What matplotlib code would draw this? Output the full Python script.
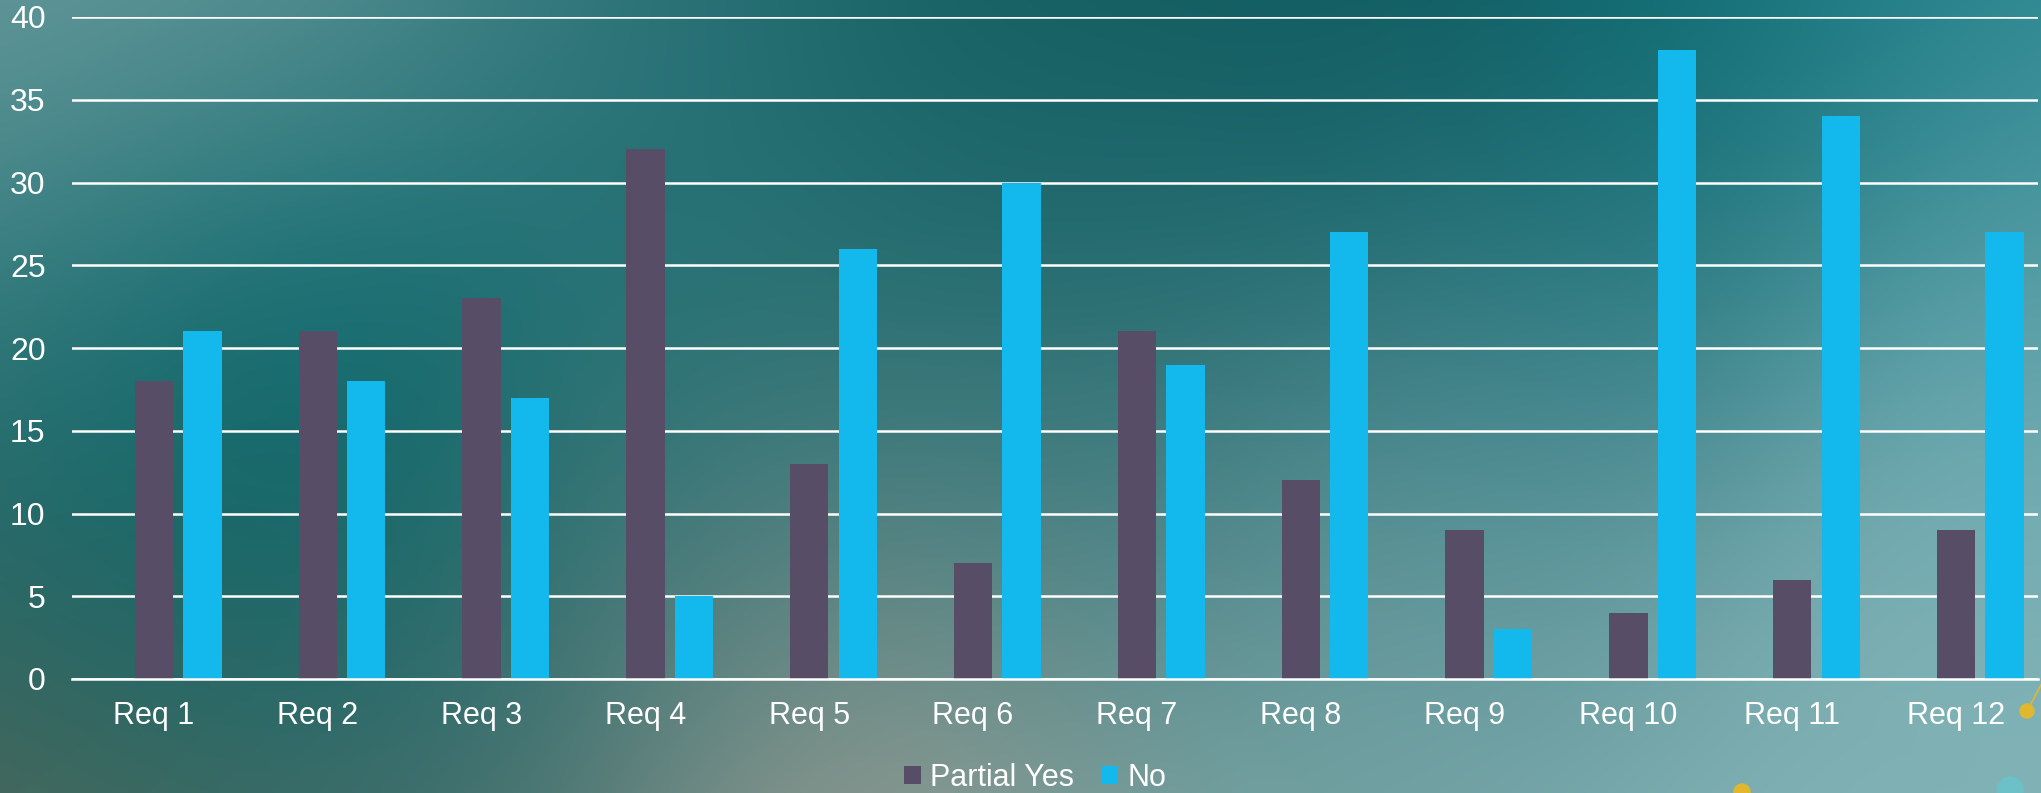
import numpy as np
import matplotlib
matplotlib.use("Agg")
from matplotlib import pyplot as plt
from matplotlib.patches import Circle

categories = ["Req 1", "Req 2", "Req 3", "Req 4", "Req 5", "Req 6",
              "Req 7", "Req 8", "Req 9", "Req 10", "Req 11", "Req 12"]
partial_yes = [18, 21, 23, 32, 13, 7, 21, 12, 9, 4, 6, 9]
no = [21, 18, 17, 5, 26, 30, 19, 27, 3, 38, 34, 27]

plt.rcParams['font.family'] = ['Liberation Sans', 'DejaVu Sans']

W, H = 2041, 793
fig = plt.figure(figsize=(W/100, H/100), dpi=100)

# background gradient (blended colour spots)
pts = [
    (0, 0, (112, 158, 160)), (300, 0, (90, 145, 148)), (650, 0, (45, 115, 120)),
    (1000, 0, (18, 92, 95)), (1400, 0, (14, 88, 92)), (1750, 0, (12, 110, 118)),
    (2040, 0, (50, 140, 150)),
    (0, 250, (70, 135, 138)), (280, 350, (4, 104, 108)), (180, 470, (6, 100, 104)),
    (650, 300, (30, 112, 116)),
    (1100, 250, (30, 105, 110)), (1550, 300, (40, 120, 128)), (2040, 300, (90, 160, 168)),
    (0, 550, (40, 100, 100)), (350, 620, (20, 100, 102)), (700, 550, (80, 125, 125)),
    (1100, 500, (75, 130, 133)), (1500, 550, (105, 155, 160)), (2040, 550, (130, 180, 185)),
    (0, 793, (90, 105, 85)), (400, 793, (85, 115, 110)), (850, 793, (158, 160, 148)),
    (1300, 793, (120, 165, 165)), (1800, 793, (130, 178, 180)),
]
gy, gx = np.mgrid[0:H:4, 0:W:4]
acc = np.zeros(gx.shape + (3,))
wsum = np.zeros(gx.shape)
for px, py, c in pts:
    w = np.exp(-((gx - px)**2 + (gy - py)**2) / (2 * 190.0**2))
    acc += w[..., None] * np.array(c) / 255.0
    wsum += w
bg = np.clip(acc / wsum[..., None], 0, 1)
bax = fig.add_axes([0, 0, 1, 1], zorder=-1)
bax.imshow(bg, extent=[0, W, H, 0], aspect='auto', interpolation='bilinear')
bax.set_xlim(0, W); bax.set_ylim(H, 0)
bax.axis('off')

# small decorations
bax.plot([2027, 2041], [711, 685], color='#e0b830', lw=1.2)
bax.add_patch(Circle((2027, 711), 7, color='#e0b830'))
bax.add_patch(Circle((1742, 792), 8, color='#e0b830'))
bax.add_patch(Circle((2010, 790), 13, color='#6cc0c8'))

ax = fig.add_axes([72/W, 1 - 679/H, (2038-72)/W, (679-17)/H])
ax.patch.set_alpha(0)
x = np.arange(len(categories))
bw = 0.234
ax.bar(x, partial_yes, bw, color='#574d66', label='Partial Yes', zorder=3)
ax.bar(x + 0.296, no, bw, color='#13b8ec', label='No', zorder=3)

ax.set_xlim(-0.5, 11.5)
ax.set_ylim(0, 40)
ax.set_yticks(range(0, 41, 5))
ax.set_xticks(x)
ax.set_xticklabels(categories)
ax.yaxis.grid(True, color='white', lw=1.8, zorder=1)
ax.set_axisbelow(True)
for s in ['top', 'right', 'left']:
    ax.spines[s].set_visible(False)
ax.spines['bottom'].set_color('white')
ax.spines['bottom'].set_linewidth(1.8)
ax.spines['bottom'].set_zorder(4)
ax.tick_params(axis='both', length=0, colors='white', labelsize=22)
ax.tick_params(axis='y', labelsize=23, pad=19)
ax.tick_params(axis='x', pad=16)

fig.legend(loc='lower center', bbox_to_anchor=(1035/W, 0.0), ncol=2, frameon=False,
           fontsize=22, labelcolor='white', handlelength=0.55, handleheight=0.55,
           handletextpad=0.3, columnspacing=0.9, borderpad=0, borderaxespad=0)

fig.savefig('out.png', dpi=100)
